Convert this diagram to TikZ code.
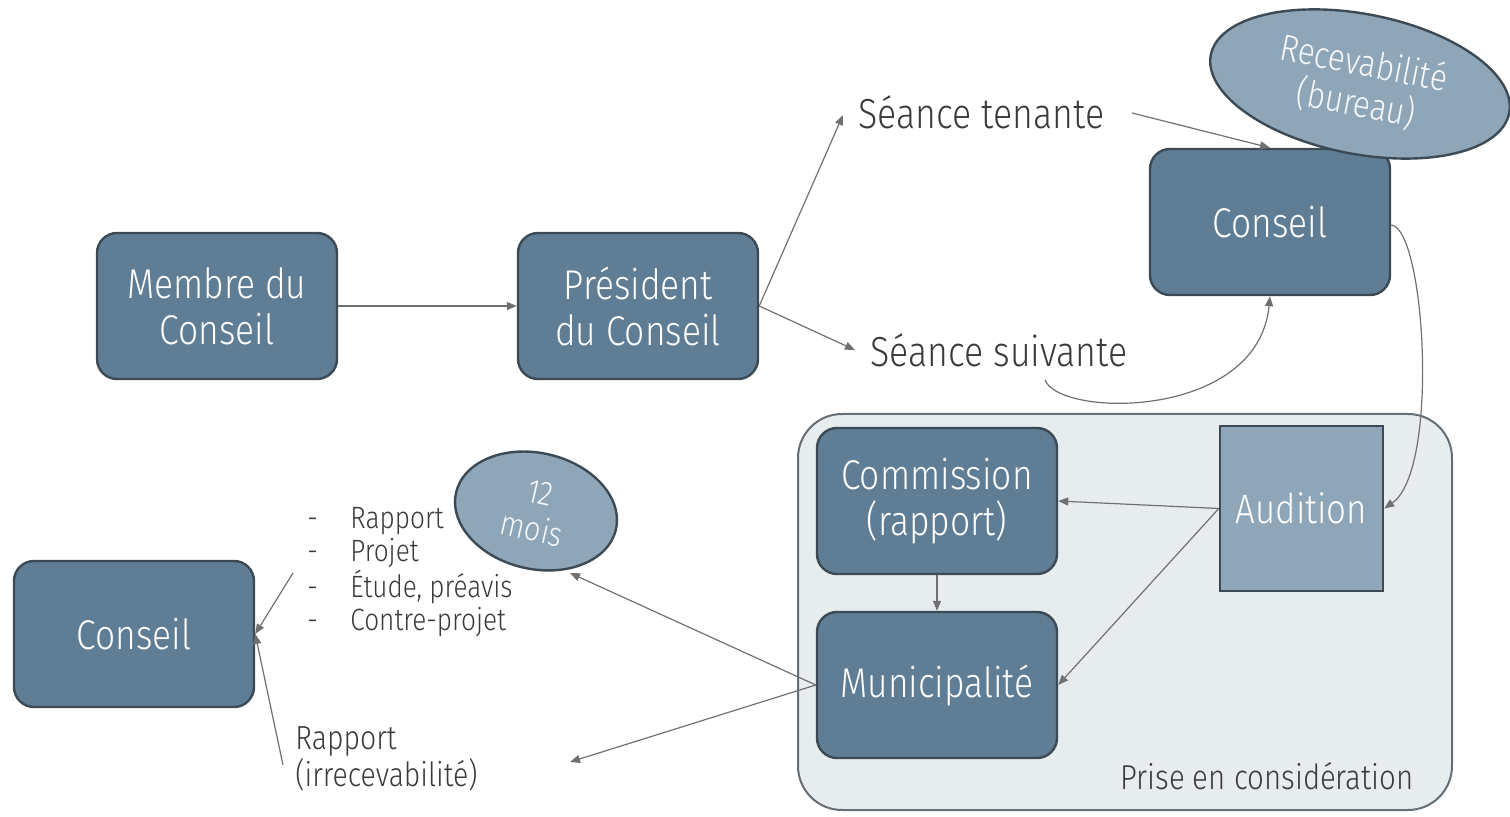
\documentclass[tikz,border=0pt]{standalone}
\usepackage{fontspec}
\setmainfont{Fira Sans Light}[FakeStretch=0.85]
\usetikzlibrary{arrows.meta,shapes.geometric}
\definecolor{boxfill}{HTML}{5F7E95}
\definecolor{boxline}{HTML}{3C4A55}
\definecolor{lightfill}{HTML}{8EA6B8}
\definecolor{contfill}{HTML}{E7ECEF}
\definecolor{linegray}{HTML}{707070}
\definecolor{txt}{HTML}{3A3A3A}
\begin{document}
\begin{tikzpicture}[x=0.5pt,y=-0.5pt,
  dbox/.style={draw=boxline,line width=1.2pt,fill=boxfill,rounded corners=10pt,
    minimum width=120pt,minimum height=73pt,text=white,align=center,
    font=\fontsize{20.8}{23}\selectfont,inner sep=0pt},
  lbl/.style={text=txt,inner sep=0pt,anchor=west},
  conn/.style={draw=linegray,line width=0.6pt,-{Triangle[length=5pt,width=4pt]}},
  ell/.style={ellipse,draw=boxline,line width=1.2pt,fill=lightfill,text=white!92!lightfill,align=center,inner sep=0pt}]
\useasboundingbox (0,0) rectangle (1510,817);
% container
\node[draw=boxline!80,line width=1pt,fill=contfill,rounded corners=22pt,minimum width=327pt,minimum height=198pt,inner sep=0pt] (cont) at (1125,612) {};
\node[text=txt,anchor=south east,inner sep=0pt,font=\fontsize{17.3}{20}\selectfont] (pec) at (1414,790) {Prise en considération};
% boxes
\node[dbox] (membre) at (217,306) {Membre du\\Conseil};
\node[dbox] (pres) at (638,306) {Président\\du Conseil};
\node[dbox] (conseilA) at (1270,222) {Conseil};
\node[dbox] (conseilB) at (134,634) {Conseil};
\node[dbox] (comm) at (937,501) {Commission\\(rapport)};
\node[dbox] (muni) at (937,685) {Municipalité};
\node[draw=boxline,line width=1.2pt,fill=lightfill,minimum width=81.5pt,minimum height=82.5pt,text=white,inner sep=0pt,font=\fontsize{20.5}{23}\selectfont] (aud) at (1301.5,508.5) {Audition};
% ellipses
\node[ell,rotate=-11,minimum width=152pt,minimum height=70pt,font=\fontsize{18.6}{20.5}\selectfont] (recev) at (1360,84) {Recevabilité\\(bureau)};
\node[ell,rotate=-13,minimum width=82pt,minimum height=58pt,font=\fontsize{17}{18.5}\selectfont] (mois) at (536,511) {12\\mois};
% labels
\node[lbl,font=\fontsize{21}{24}\selectfont] (st) at (858,112) {Séance tenante};
\node[lbl,font=\fontsize{21}{24}\selectfont] (ss) at (870,350) {Séance suivante};
\node[lbl,font=\fontsize{15.4}{16.5}\selectfont,align=left,anchor=north west] (list) at (307,507)
  {\makebox[21.5pt][l]{-}Rapport\\\makebox[21.5pt][l]{-}Projet\\\makebox[21.5pt][l]{-}Étude, préavis\\\makebox[21.5pt][l]{-}Contre-projet};
\node[lbl,font=\fontsize{16.7}{18.5}\selectfont,align=left,anchor=north west] (irr) at (295,726) {Rapport\\(irrecevabilité)};
% free ends
\coordinate (stA) at (843,115);
\coordinate (ssA) at (855,350);
\coordinate (stB) at (1132,113);
\coordinate (ssB) at (1045,380);
\coordinate (listEnd) at (293,573);
\coordinate (irrEnd) at (283,765);
\coordinate (moisTip) at (570,573);
\coordinate (irrTip) at (570,762);
% connectors
\draw[conn] (membre.east) -- (pres.west);
\draw[conn] (pres.east) -- (stA);
\draw[conn] (pres.east) -- (ssA);
\draw[conn] (stB) -- (conseilA.north);
\draw[conn] (ssB) .. controls (1060,418) and (1258,420) .. (conseilA.south);
\draw[conn] ([yshift=-1.5pt]conseilA.east) .. controls (1425,228) and (1440,470) .. (aud.east);
\draw[conn] (aud.west) -- (comm.east);
\draw[conn] (aud.west) -- (muni.east);
\draw[conn] (comm.south) -- (muni.north);
\draw[conn] (muni.west) -- (moisTip);
\draw[conn] (muni.west) -- (irrTip);
\draw[conn] (listEnd) -- (conseilB.east);
\draw[conn] (irrEnd) -- (conseilB.east);
\end{tikzpicture}
\end{document}
